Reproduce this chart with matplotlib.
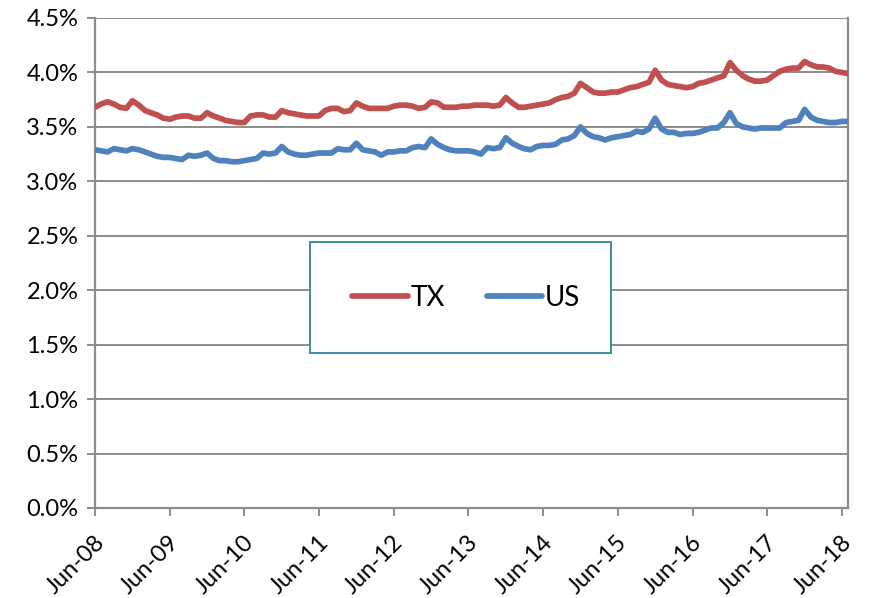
import matplotlib
matplotlib.use("Agg")
import matplotlib.pyplot as plt
import matplotlib.dates as mdates
import matplotlib.transforms as mtransforms
from matplotlib.patches import Rectangle
import pandas as pd

plt.rcParams['font.family'] = ['Lato', 'DejaVu Sans']

start_month = "2008-06-01"
tx = [3.68, 3.71, 3.73, 3.71, 3.68, 3.67, 3.74, 3.70, 3.65, 3.63, 3.61, 3.58,
      3.57, 3.59, 3.60, 3.60, 3.58, 3.58, 3.63, 3.60, 3.58, 3.56, 3.55, 3.54,
      3.54, 3.60, 3.61, 3.61, 3.59, 3.59, 3.65, 3.63, 3.62, 3.61, 3.60, 3.60,
      3.60, 3.65, 3.67, 3.67, 3.64, 3.65, 3.72, 3.69, 3.67, 3.67, 3.67, 3.67,
      3.69, 3.70, 3.70, 3.69, 3.67, 3.68, 3.73, 3.72, 3.68, 3.68, 3.68, 3.69,
      3.69, 3.70, 3.70, 3.70, 3.69, 3.70, 3.77, 3.72, 3.68, 3.68, 3.69, 3.70,
      3.71, 3.72, 3.75, 3.77, 3.78, 3.81, 3.90, 3.86, 3.82, 3.81, 3.81, 3.82,
      3.82, 3.84, 3.86, 3.87, 3.89, 3.91, 4.02, 3.93, 3.89, 3.88, 3.87, 3.86,
      3.87, 3.90, 3.91, 3.93, 3.95, 3.97, 4.09, 4.02, 3.97, 3.94, 3.92, 3.92,
      3.93, 3.97, 4.01, 4.03, 4.04, 4.04, 4.10, 4.07, 4.05, 4.05, 4.04, 4.01,
      4.00, 3.99]
us = [3.29, 3.28, 3.27, 3.30, 3.29, 3.28, 3.30, 3.29, 3.27, 3.25, 3.23, 3.22,
      3.22, 3.21, 3.20, 3.24, 3.23, 3.24, 3.26, 3.21, 3.19, 3.19, 3.18, 3.18,
      3.19, 3.20, 3.21, 3.26, 3.25, 3.26, 3.32, 3.27, 3.25, 3.24, 3.24, 3.25,
      3.26, 3.26, 3.26, 3.30, 3.29, 3.29, 3.35, 3.29, 3.28, 3.27, 3.24, 3.27,
      3.27, 3.28, 3.28, 3.31, 3.32, 3.31, 3.39, 3.34, 3.31, 3.29, 3.28, 3.28,
      3.28, 3.27, 3.25, 3.31, 3.30, 3.31, 3.40, 3.35, 3.32, 3.30, 3.29, 3.32,
      3.33, 3.33, 3.34, 3.38, 3.39, 3.42, 3.50, 3.44, 3.41, 3.40, 3.38, 3.40,
      3.41, 3.42, 3.43, 3.46, 3.45, 3.48, 3.58, 3.48, 3.45, 3.45, 3.43, 3.44,
      3.44, 3.45, 3.47, 3.49, 3.49, 3.54, 3.63, 3.53, 3.50, 3.49, 3.48, 3.49,
      3.49, 3.49, 3.49, 3.54, 3.55, 3.56, 3.66, 3.59, 3.56, 3.55, 3.54, 3.54,
      3.55, 3.55]
series_names = ["TX", "US"]
y_ticks = [0.0, 0.5, 1.0, 1.5, 2.0, 2.5, 3.0, 3.5, 4.0, 4.5]

dates = pd.date_range(start_month, periods=len(tx), freq="MS")

fig = plt.figure(figsize=(8.72, 5.98), dpi=100)
ax = fig.add_axes([95 / 872, 1 - 508 / 598, 753 / 872, 490 / 598])

grid_c = "#8c8c8c"
ax.plot(dates, tx, color="#C0504D", lw=4.1, solid_joinstyle="round",
        solid_capstyle="round", label=series_names[0], zorder=3)
ax.plot(dates, us, color="#4F81BD", lw=4.1, solid_joinstyle="round",
        solid_capstyle="round", label=series_names[1], zorder=3)

ax.set_ylim(0, 4.5)
ax.set_yticks(y_ticks)
ax.set_yticklabels([f"{v:.1f}%" for v in y_ticks])
ax.yaxis.grid(True, color=grid_c, lw=1.4)
ax.set_axisbelow(True)

ax.set_xlim(dates[0], dates[-1])
ax.xaxis.set_major_locator(mdates.MonthLocator(bymonth=6, bymonthday=1))
ax.xaxis.set_major_formatter(mdates.DateFormatter("%b-%y"))

ax.spines["top"].set_visible(False)
for s in ["left", "bottom", "right"]:
    ax.spines[s].set_color(grid_c)
    ax.spines[s].set_linewidth(1.6)

ax.tick_params(axis="both", colors=grid_c, length=6, width=1.4,
               labelcolor="black", labelsize=17)
ax.tick_params(axis="x", pad=12)
ax.tick_params(axis="y", pad=6)

offset = mtransforms.ScaledTranslation(6 / 100, -6 / 100, fig.dpi_scale_trans)
for lab in ax.get_xticklabels():
    lab.set_rotation(45)
    lab.set_ha("right")
    lab.set_va("center")
    lab.set_rotation_mode("anchor")
    lab.set_transform(lab.get_transform() + offset)

box = Rectangle((0.2855, 0.316), 0.3995, 0.227, transform=ax.transAxes,
                facecolor="white", edgecolor="#3A8FA0", lw=1.4, zorder=4)
ax.add_patch(box)
leg = ax.legend(loc="center", bbox_to_anchor=(0.493, 0.4295), ncol=2,
                frameon=False, fontsize=20, handlelength=2.0,
                handletextpad=0.1, columnspacing=1.5)
leg.set_zorder(5)

fig.savefig("out.png", dpi=100, facecolor="white")
